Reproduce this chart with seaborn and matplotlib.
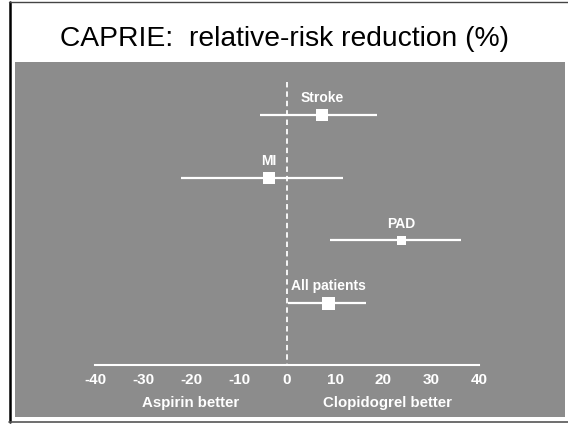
import matplotlib
matplotlib.use("Agg")
import matplotlib.pyplot as plt
import numpy as np
import pandas as pd
import seaborn as sns
from matplotlib.lines import Line2D

# data
groups = ["Stroke", "MI", "PAD", "All patients"]
rrr = [7.3, -3.7, 23.8, 8.7]
ci_low = [-5.7, -22.1, 8.9, 0.3]
ci_high = [18.7, 11.7, 36.2, 16.5]
marker_px = [12, 12, 9, 13]
xticks = [-40, -30, -20, -10, 0, 10, 20, 30, 40]

sns.set_style("white")
plt.rcParams["font.family"] = ["Liberation Sans", "DejaVu Sans"]

df = pd.DataFrame({"group": groups, "rrr": rrr, "lo": ci_low, "hi": ci_high})
df["row"] = np.arange(len(df))

W, H = 568, 424
fig = plt.figure(figsize=(W / 100, H / 100), dpi=100)
fig.patch.set_facecolor("white")

# outer frame: left black, thin top and bottom lines
fig.add_artist(Line2D([9.5 / W, 9.5 / W], [1 - 2 / H, 1 - 422 / H], color="black", linewidth=1.8,
                      transform=fig.transFigure))
fig.add_artist(Line2D([9 / W, 1], [1 - 2 / H, 1 - 2 / H], color="#444444", linewidth=1.0,
                      transform=fig.transFigure))
fig.add_artist(Line2D([9 / W, 1], [1 - 422 / H, 1 - 422 / H], color="#555555", linewidth=1.2,
                      transform=fig.transFigure))

fig.text(0.5, 1 - 39 / H, "CAPRIE:  relative-risk reduction (%)", ha="center", va="center",
         fontsize=20.3, color="black")

# gray panel axes
gray = "#8c8c8c"
ax = fig.add_axes([15 / W, 1 - 417 / H, 550 / W, 355 / H])
ax.set_facecolor(gray)

px = 80 / 384
ax.set_xlim(-40 - 80 * px, 40 + 86 * px)
row_px = 62.7
ax.set_ylim((417 - 115) / row_px, -(115 - 62) / row_px)

axis_row = 3.98
ax.vlines(0, -0.53, axis_row, colors="white", linestyles=(0, (3, 2.2)), linewidth=1.3)

ax.hlines(df["row"], df["lo"], df["hi"], colors="white", linewidth=1.6)
sns.scatterplot(data=df, x="rrr", y="row", marker="s", s=[(m * 0.72) ** 2 for m in marker_px],
                color="white", edgecolor="white", linewidth=0, ax=ax, legend=False, zorder=3)

for _, r in df.iterrows():
    ax.annotate(r["group"], (r["rrr"], r["row"]), xytext=(0, 12), textcoords="offset points",
                ha="center", va="center", color="white", fontsize=10, fontweight="bold")

for s in ["top", "left", "right"]:
    ax.spines[s].set_visible(False)
ax.spines["bottom"].set_position(("data", axis_row))
ax.spines["bottom"].set_bounds(-40, 40)
ax.spines["bottom"].set_color("white")
ax.spines["bottom"].set_linewidth(1.5)
ax.set_xticks(xticks)
ax.set_xticklabels([str(t) for t in xticks])
ax.tick_params(axis="x", direction="in", length=5, width=1.5, colors="white", pad=6,
               labelsize=11)
for lbl in ax.get_xticklabels():
    lbl.set_fontweight("bold")
ax.set_yticks([])
ax.set_xlabel("")
ax.set_ylabel("")

ax.text(-20, 4.6, "Aspirin better", ha="center", va="center", color="white",
        fontsize=10.8, fontweight="bold")
ax.text(21, 4.6, "Clopidogrel better", ha="center", va="center", color="white",
        fontsize=10.8, fontweight="bold")

fig.savefig("out.png", dpi=100, facecolor="white")
